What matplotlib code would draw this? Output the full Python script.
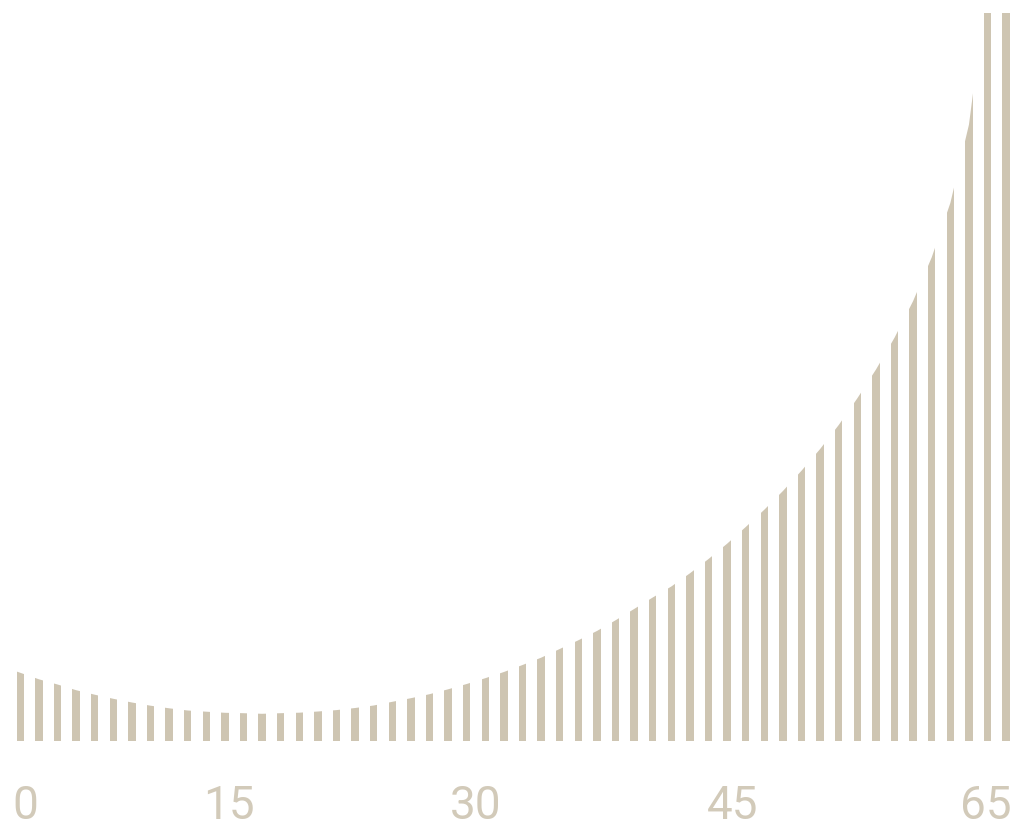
import numpy as np
import matplotlib
matplotlib.use("Agg")
import matplotlib.pyplot as plt
from matplotlib.path import Path

# ---- data ----
heights = [68.2, 61.7, 56.5, 50.8, 46.3, 42.2, 38.5, 35.3, 32.7, 30.5,
           29.3, 28.2, 27.8, 27.2, 27.8, 28.3, 29.5, 30.9, 33.0, 35.5,
           39.2, 42.8, 46.8, 51.7, 57.0, 62.8, 69.0, 76.0, 83.3, 92.0,
           100.7, 110.0, 120.7, 132.0, 143.5, 154.5, 167.7, 182.0, 197.3, 214.0,
           231.3, 250.0, 270.3, 292.0, 316.0, 342.7, 371.4, 403.3, 440.0, 483.7,
           538.0, 616.3, 760.0, 900.0]
tick_labels = ["0", "15", "30", "45", "65"]
tick_positions = [0.27, 11.2, 24.5, 38.3, 51.9]

BAR_COLOR = "#CEC5B2"
TEXT_COLOR = "#D2CAB9"
Y_MAX = 728

fig = plt.figure(figsize=(10.24, 8.28), dpi=100)
ax = fig.add_axes([0.0, 86 / 828, 1.0, 728 / 828])

x = np.arange(len(heights), dtype=float)
y = np.asarray(heights, dtype=float)

# continuous outline of the series, extended half a step at each end
xs = np.concatenate([[x[0] - 0.5], x, [x[-1] + 0.5]])
ys = np.concatenate([[y[0] - 0.5 * (y[1] - y[0])], y,
                     [y[-1] + 0.5 * (y[-1] - y[-2])]])
verts = [(xs[0], 0)] + list(zip(xs, ys)) + [(xs[-1], 0), (xs[0], 0)]
outline = Path(verts, closed=True)

bars = ax.bar(x, np.full_like(y, Y_MAX * 2), width=0.3925,
              color=BAR_COLOR, linewidth=0)
for b in bars:
    b.set_clip_path(outline, ax.transData)

ax.set_xlim(-20.35 / 18.6, (1024 - 20.35) / 18.6)
ax.set_ylim(0, Y_MAX)
ax.set_xticks(tick_positions)
ax.set_xticklabels(tick_labels, fontsize=33, color=TEXT_COLOR,
                   family=["Roboto", "DejaVu Sans"], fontweight="normal")
ax.tick_params(axis="x", length=0, pad=30)
ax.set_yticks([])
for s in ax.spines.values():
    s.set_visible(False)
ax.patch.set_alpha(0)

fig.savefig("out.png", dpi=100, facecolor="white")
